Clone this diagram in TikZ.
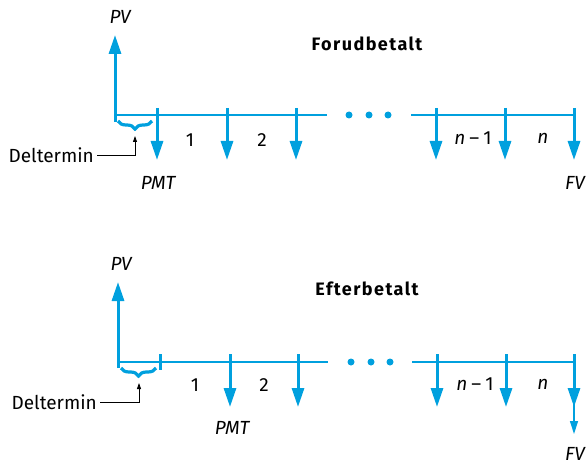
\documentclass[tikz,border=0pt]{standalone}
\usepackage{fontspec}
\setmainfont{Fira Sans}
\usepackage{tikz}
\usetikzlibrary{arrows.meta,calc}
\usetikzlibrary{decorations.pathreplacing}

\definecolor{flow}{RGB}{0,160,222}
\tikzset{
    axis/.style={flow, line width=2pt},
    pay/.style={flow, line width=3pt, -{Triangle[length=19pt,width=12pt]}},
    thinpay/.style={flow, line width=1.3pt, -{Triangle[length=13pt,width=8pt]}},
    tick/.style={flow, line width=3pt},
    part/.style={flow, line width=3.2pt, decorate,
        decoration={brace, mirror, amplitude=8pt}},
    lead/.style={black, line width=0.8pt, -{Triangle[length=6pt,width=4pt]}},
    lbl/.style={font=\fontsize{19}{21}\selectfont, inner sep=0pt},
    var/.style={lbl, font=\fontsize{19}{21}\selectfont\itshape},
    title/.style={font=\fontsize{18}{20}\selectfont\bfseries\addfontfeatures{LetterSpace=8}, inner sep=0pt}
}

\begin{document}
\begin{tikzpicture}[x=1pt, y=-1pt]
    \useasboundingbox (0,0) rectangle (586,468);

    % forudbetalt: payments at the start of each period
    \node[title] (t1) at (367,44) {Forudbetalt};
    \node[var] (pv1) at (120,17) {PV};
    \coordinate (o1) at (115,122);
    \coordinate (p1) at (115,35);
    \draw[pay] (o1) -- (p1);
    \draw[axis] (115,115) -- (327,115);
    \draw[axis] (411,115) -- (574,115);
    \foreach \x in {349,369,388}{
        \fill[flow] (\x,115) circle (3.5pt);
    }
    \foreach \x in {157,227,296,436,505,574}{
        \draw[pay] (\x,108) -- (\x,160);
    }
    \node[lbl] (a1) at (190,140) {1};
    \node[lbl] (b1) at (262,140) {2};
    \node[lbl] (c1) at (473,138) {\textit{n}\kern4pt–\kern4pt1};
    \node[lbl] (d1) at (543,138) {\textit{n}};
    \node[var] (pmt1) at (158,183) {PMT};
    \node[var, anchor=east] (fv1) at (585,183) {FV};
    \draw[part] (118,121) -- (152,121);
    \node[lbl, anchor=east, inner xsep=3pt] (dl1) at (97,155) {Deltermin};
    \coordinate (br1) at (135,136);
    \draw[lead] (dl1.east) -| (br1);

    % efterbetalt: payments at the end of each period
    \node[title] (t2) at (367,289) {Efterbetalt};
    \node[var] (pv2) at (121,264) {PV};
    \coordinate (o2) at (118,368);
    \coordinate (p2) at (118,282);
    \draw[pay] (o2) -- (p2);
    \draw[axis] (118,362) -- (328,362);
    \draw[axis] (412,362) -- (574,362);
    \foreach \x in {351,371,390}{
        \fill[flow] (\x,362) circle (3.5pt);
    }
    \draw[tick] (160,354) -- (160,370);
    \foreach \x in {230,298,437,506,574}{
        \draw[pay] (\x,354) -- (\x,407);
    }
    \draw[thinpay] (574,400) -- (574,434);
    \node[lbl] (a2) at (195,385) {1};
    \node[lbl] (b2) at (264,385) {2};
    \node[lbl] (c2) at (475,384) {\textit{n}\kern4pt–\kern4pt1};
    \node[lbl] (d2) at (543,384) {\textit{n}};
    \node[var] (pmt2) at (232,428) {PMT};
    \node[var, anchor=east] (fv2) at (585,454) {FV};
    \draw[part] (121,368) -- (156,368);
    \node[lbl, anchor=east, inner xsep=3pt] (dl2) at (100,402) {Deltermin};
    \coordinate (br2) at (139,383);
    \draw[lead] (dl2.east) -| (br2);
\end{tikzpicture}
\end{document}
